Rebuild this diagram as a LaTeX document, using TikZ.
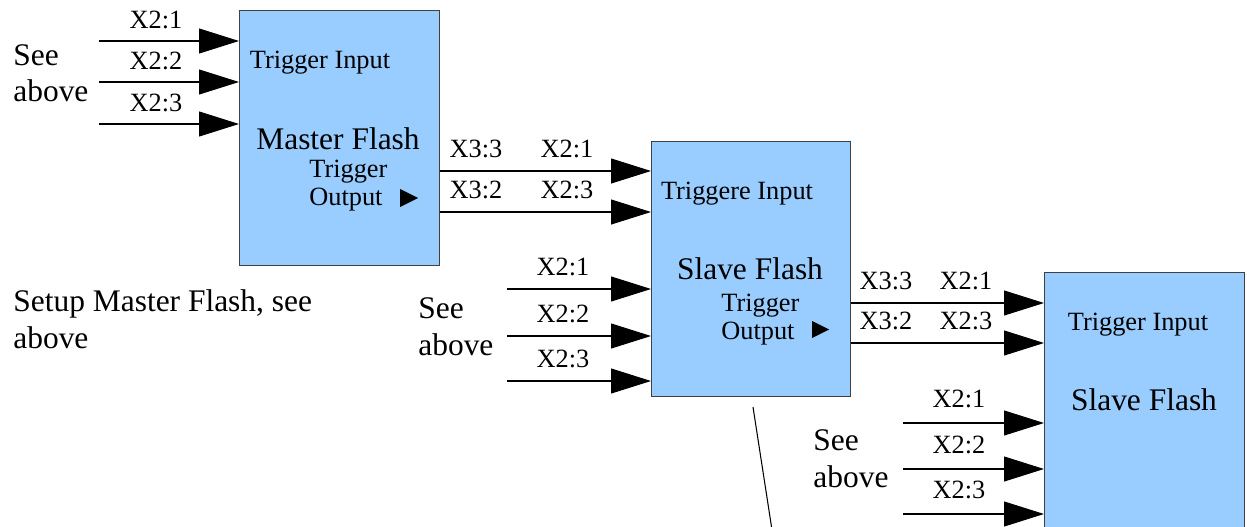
\documentclass[tikz,border=0pt]{standalone}
\usepackage{fontspec}
\setmainfont{Liberation Serif}
\usepackage{xcolor}
\usetikzlibrary{arrows.meta}
\definecolor{flashblue}{RGB}{153,204,255}

\begin{document}
\begin{tikzpicture}[x=0.02cm, y=-0.02cm,
    box/.style={draw=black!75, fill=flashblue, line width=0.6pt, anchor=north west, inner sep=0pt, minimum width=4cm, minimum height=5.1cm},
    pin/.style={-{Triangle[length=0.8cm, width=0.5cm]}, line width=0.6pt},
    lbl/.style={font=\fontsize{15}{15.9}\selectfont, inner sep=0pt},
    big/.style={font=\fontsize{17.9}{20.6}\selectfont, inner sep=0pt, align=left, anchor=base west}]
    \clip (0,0) rectangle (1247,527);

    % Draw the flash units
    \node[box] (master) at (239,10) {};
    \node[box, minimum width=3.98cm] (slaveA) at (651,141) {};
    \node[box, minimum height=5.4cm] (slaveB) at (1044,272) {};

    % Texts inside the units
    \node[lbl, anchor=base] (mIn) at (320,69) {Trigger Input};
    \node[big, anchor=base] (mName) at (338,150) {Master Flash};
    \node[lbl, align=left, anchor=base west] (mOut) at (309,205) {Trigger\\Output};
    \fill (400,189) -- (400,207) -- (418,198) -- cycle;
    \node[lbl, anchor=base] (aIn) at (737,199) {Triggere Input};
    \node[big, anchor=base] (aName) at (750,279) {Slave Flash};
    \node[lbl, align=left, anchor=base west] (aOut) at (721,339) {Trigger\\Output};
    \fill (812,321) -- (812,338) -- (829,329.5) -- cycle;
    \node[lbl, anchor=base] (bIn) at (1138,330) {Trigger Input};
    \node[big, anchor=base] (bName) at (1144,410) {Slave Flash};

    % Inputs of the master
    \foreach \y/\t [count=\i] in {41/X2:1, 82/X2:2, 124/X2:3} {
        \coordinate (mPin\i) at (99,\y);
        \draw[pin] (mPin\i) -- (mPin\i -| master.west);
        \node[lbl] at (156,\y-21) {\t};
    }
    % Master to first slave
    \foreach \y/\s/\t [count=\i] in {171/X3:3/X2:1, 212/X3:2/X2:3} {
        \coordinate (mOut\i) at (0,\y);
        \draw[pin] (mOut\i -| master.east) -- (mOut\i -| slaveA.west);
        \node[lbl] at (476,\y-22) {\s};
        \node[lbl] at (567,\y-22) {\t};
    }
    % Inputs of the first slave
    \foreach \y/\t [count=\i] in {289/X2:1, 336/X2:2, 381/X2:3} {
        \coordinate (aPin\i) at (507,\y);
        \draw[pin] (aPin\i) -- (aPin\i -| slaveA.west);
        \node[lbl] at (563,\y-22) {\t};
    }
    % First slave to second slave
    \foreach \y/\s/\t [count=\i] in {303/X3:3/X2:1, 343/X3:2/X2:3} {
        \coordinate (aOut\i) at (0,\y);
        \draw[pin] (aOut\i -| slaveA.east) -- (aOut\i -| slaveB.west);
        \node[lbl] at (886,\y-22) {\s};
        \node[lbl] at (966,\y-22) {\t};
    }
    % Inputs of the second slave
    \foreach \y/\t [count=\i] in {423/X2:1, 469/X2:2, 514/X2:3} {
        \coordinate (bPin\i) at (903,\y);
        \draw[pin] (bPin\i) -- (bPin\i -| slaveB.west);
        \node[lbl] at (959,\y-24) {\t};
    }

    % Notes
    \node[big] (seeM) at (13,102) {See\\above};
    \node[big] (seeA) at (418,355) {See\\above};
    \node[big] (seeB) at (813,487) {See\\above};
    \node[big] (setup) at (13,348) {Setup Master Flash, see\\above};

    % Stray line
    \coordinate (lineTop) at (753,407);
    \coordinate (lineEnd) at (772,530);
    \draw[line width=0.6pt] (lineTop) -- (lineEnd);
\end{tikzpicture}
\end{document}
